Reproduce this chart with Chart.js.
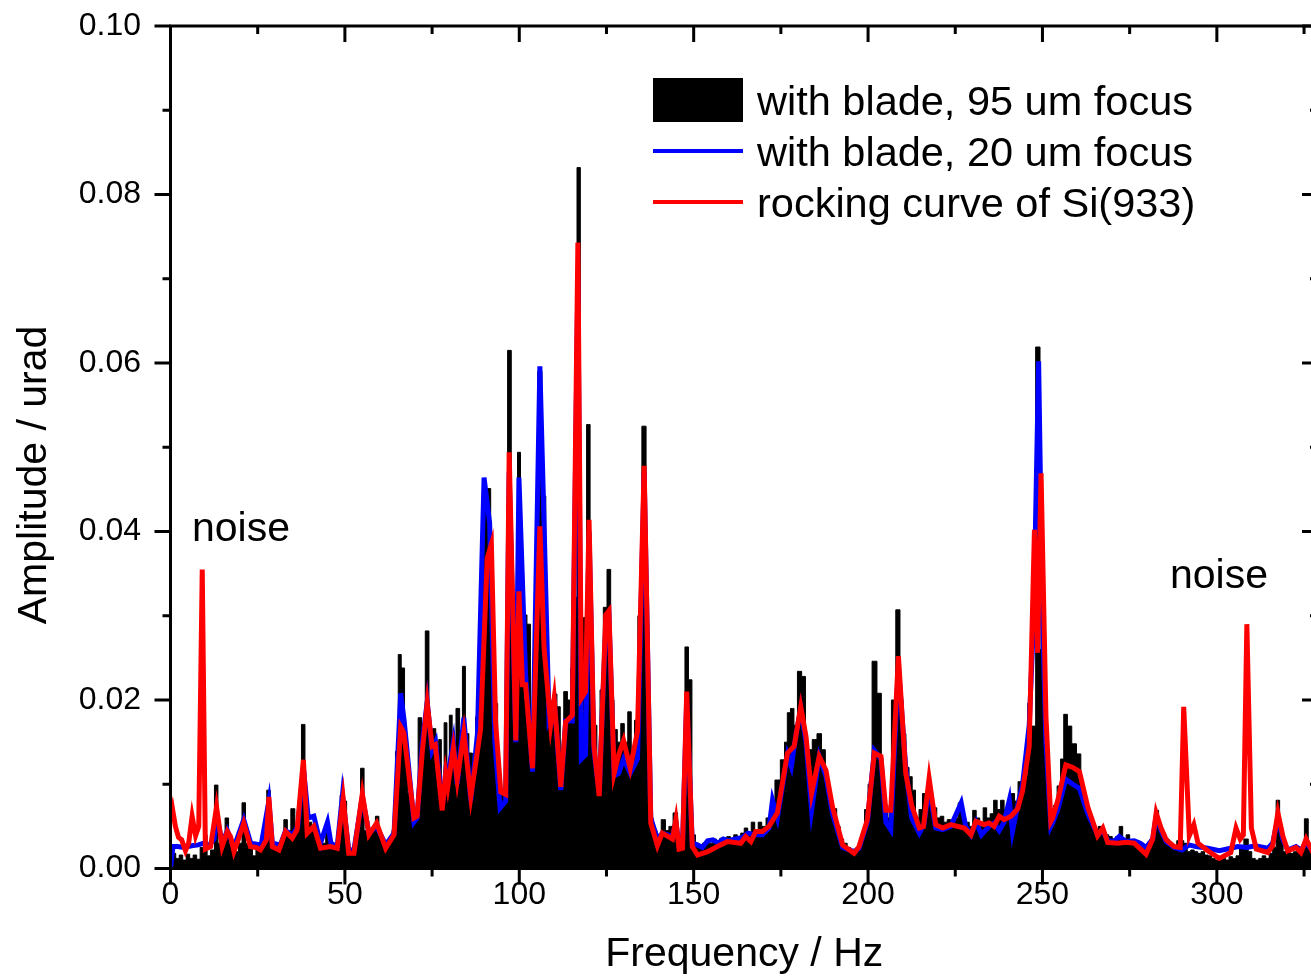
<!DOCTYPE html>
<html>
<head>
<meta charset="utf-8">
<script src="https://cdn.jsdelivr.net/npm/chart.js@4.4.1/dist/chart.umd.min.js"></script>
<style>
  html, body { margin: 0; padding: 0; background: #fff; overflow: hidden; }
  #wrap { width: 1326px; height: 978px; }
</style>
</head>
<body>
<div id="wrap"><canvas id="spectrum" width="1326" height="978"></canvas></div>
<script>
// ============================================================
// DATA
// ============================================================

const xTickValues = [0, 50, 100, 150, 200, 250, 300];
const yTickValues = [0, 0.02, 0.04, 0.06, 0.08, 0.10];

const seriesLabels = [
  "with blade, 95 um focus",
  "with blade, 20 um focus",
  "rocking curve of Si(933)"
];

// black: with blade, 95 um focus
const blackFreq = [
  0, 1, 2, 3, 4, 5, 6, 7, 8, 9, 10, 11, 12, 13.2, 14, 15, 16.3, 17, 18, 19,
  20, 21, 22, 23, 24, 25, 26, 27, 28.2, 29, 30, 31, 32, 33, 34, 35, 36.3, 37, 38.1, 39,
  40, 41, 42, 43, 44, 45, 46, 47, 48, 49.3, 50, 51, 52, 53, 54, 55, 56, 57, 58, 59.5,
  60, 61, 62, 63, 64, 65, 65.6, 66.7, 67.5, 68.5, 69.5, 70.5, 71.5, 72.5, 73.6, 74.6, 75.6, 76.5, 77.3, 78,
  78.9, 79.6, 80.3, 81.2, 82.5, 83.3, 84.1, 85, 86.1, 87, 88, 89, 90, 91.3, 92.3, 93.3, 94.3, 95.3, 96.2, 97.1,
  98.3, 99.1, 99.9, 100.8, 101.7, 102.7, 103.7, 104.7, 105.9, 107.1, 108.1, 109.2, 110.3, 111.3, 112.2, 113.3, 114.3, 115.2, 116.1, 117,
  118, 118.8, 119.8, 120.8, 121.8, 122.7, 123.6, 124.6, 125.7, 126.7, 127.6, 128.6, 129.6, 130.6, 131.6, 132.6, 133.5, 134.5, 135.8, 136.9,
  137.8, 139, 140, 141.4, 142.4, 143.4, 144.8, 146, 147, 148, 149, 150, 151, 152, 153, 154, 155, 156, 157, 158,
  159, 160, 161, 162, 163, 164, 165, 166, 167, 168, 169, 170, 171.5, 172.5, 174.1, 175.6, 176.5, 177.2, 178.3, 179.2,
  180.3, 181.6, 182.5, 183.3, 184.7, 186, 187.3, 188.2, 189, 190.5, 191.5, 192.5, 193.5, 194.5, 195.5, 196.5, 197.5, 198.5, 199.5, 200.5,
  201.8, 203.3, 204.3, 205.2, 206.2, 207.2, 208.7, 209.6, 210.4, 211.3, 212.2, 213.1, 214.1, 215.1, 216.1, 217.2, 218.2, 219.2, 220.2, 221.2,
  222.2, 223.2, 224.2, 225.2, 226.5, 227.5, 228.5, 229.5, 230.5, 231.5, 232.5, 233.5, 234.5, 235.5, 236.5, 237.5, 238.5, 239.5, 240.5, 241.5,
  242.5, 243.5, 244.5, 245.3, 246.3, 247.3, 248.8, 249.8, 250.7, 251.7, 252.7, 253.7, 254.7, 255.7, 256.5, 257.8, 259, 260.5, 261.5, 262.3,
  263.5, 264.5, 265.5, 266.5, 267.5, 268.5, 269.5, 270.5, 271.5, 272.5, 273.5, 274.5, 275.5, 276.5, 277.5, 278.5, 279.5, 280.5, 281.5, 282.8,
  283.8, 284.8, 285.8, 286.8, 288, 289, 290, 291, 292, 293, 294, 295, 296, 297, 298, 299, 300, 301, 302, 303,
  304, 305, 306, 307, 308.5, 309.5, 310.5, 311.5, 312.5, 313.5, 314.5, 315.5, 316.5, 317.5, 318.5, 319.5, 320.5, 321.5, 322.5, 323.5,
  324.5, 325.7, 326.7, 327.7, 328.7
];
const blackAmp = [
  0.0005, 0.0018, 0.0012, 0.0016, 0.0010, 0.0017, 0.0012, 0.0016, 0.0011, 0.0025, 0.0040, 0.0015, 0.0022, 0.0099, 0.0030, 0.0028, 0.0060, 0.0030, 0.0025, 0.0020,
  0.0030, 0.0078, 0.0030, 0.0025, 0.0015, 0.0022, 0.0025, 0.0028, 0.0093, 0.0030, 0.0025, 0.0028, 0.0030, 0.0058, 0.0045, 0.0071, 0.0050, 0.0060, 0.0171, 0.0050,
  0.0055, 0.0050, 0.0042, 0.0035, 0.0030, 0.0045, 0.0030, 0.0028, 0.0030, 0.0087, 0.0080, 0.0025, 0.0022, 0.0025, 0.0050, 0.0119, 0.0045, 0.0040, 0.0045, 0.0062,
  0.0045, 0.0030, 0.0030, 0.0035, 0.0045, 0.0139, 0.0254, 0.0238, 0.0150, 0.0090, 0.0065, 0.0070, 0.0179, 0.0157, 0.0282, 0.0150, 0.0166, 0.0130, 0.0153, 0.0100,
  0.0173, 0.0120, 0.0182, 0.0150, 0.0190, 0.0130, 0.0240, 0.0160, 0.0137, 0.0120, 0.0180, 0.0270, 0.0440, 0.0451, 0.0300, 0.0196, 0.0100, 0.0090, 0.0120, 0.0615,
  0.0254, 0.0160, 0.0494, 0.0350, 0.0301, 0.0290, 0.0170, 0.0268, 0.0590, 0.0442, 0.0240, 0.0190, 0.0207, 0.0192, 0.0110, 0.0210, 0.0200, 0.0238, 0.0322, 0.0832,
  0.0250, 0.0298, 0.0527, 0.0260, 0.0170, 0.0110, 0.0212, 0.0310, 0.0355, 0.0200, 0.0165, 0.0150, 0.0172, 0.0150, 0.0186, 0.0140, 0.0176, 0.0300, 0.0525, 0.0204,
  0.0060, 0.0045, 0.0040, 0.0058, 0.0045, 0.0050, 0.0066, 0.0035, 0.0040, 0.0263, 0.0224, 0.0040, 0.0025, 0.0028, 0.0030, 0.0032, 0.0030, 0.0035, 0.0032, 0.0036,
  0.0033, 0.0038, 0.0035, 0.0040, 0.0038, 0.0042, 0.0048, 0.0040, 0.0055, 0.0045, 0.0055, 0.0050, 0.0060, 0.0070, 0.0105, 0.0129, 0.0150, 0.0185, 0.0190, 0.0170,
  0.0234, 0.0228, 0.0150, 0.0141, 0.0153, 0.0160, 0.0141, 0.0110, 0.0085, 0.0071, 0.0050, 0.0035, 0.0030, 0.0025, 0.0020, 0.0018, 0.0025, 0.0040, 0.0070, 0.0100,
  0.0246, 0.0208, 0.0100, 0.0075, 0.0060, 0.0200, 0.0307, 0.0200, 0.0160, 0.0120, 0.0109, 0.0093, 0.0060, 0.0070, 0.0089, 0.0093, 0.0080, 0.0072, 0.0060, 0.0062,
  0.0055, 0.0058, 0.0055, 0.0060, 0.0078, 0.0060, 0.0055, 0.0050, 0.0069, 0.0060, 0.0050, 0.0072, 0.0060, 0.0065, 0.0081, 0.0070, 0.0081, 0.0070, 0.0075, 0.0089,
  0.0080, 0.0103, 0.0100, 0.0110, 0.0196, 0.0169, 0.0619, 0.0260, 0.0160, 0.0080, 0.0070, 0.0075, 0.0098, 0.0130, 0.0183, 0.0169, 0.0148, 0.0136, 0.0100, 0.0069,
  0.0060, 0.0052, 0.0045, 0.0050, 0.0045, 0.0040, 0.0038, 0.0035, 0.0038, 0.0050, 0.0035, 0.0040, 0.0032, 0.0030, 0.0028, 0.0030, 0.0025, 0.0025, 0.0035, 0.0069,
  0.0050, 0.0042, 0.0035, 0.0028, 0.0025, 0.0033, 0.0033, 0.0030, 0.0020, 0.0022, 0.0020, 0.0018, 0.0020, 0.0016, 0.0015, 0.0012, 0.0010, 0.0010, 0.0012, 0.0010,
  0.0014, 0.0012, 0.0015, 0.0025, 0.0035, 0.0020, 0.0012, 0.0010, 0.0012, 0.0015, 0.0012, 0.0018, 0.0025, 0.0081, 0.0040, 0.0020, 0.0022, 0.0018, 0.0020, 0.0025,
  0.0020, 0.0059, 0.0025, 0.0020, 0.0022
];

// blue: with blade, 20 um focus
const blueFreq = [
  0, 0.7, 2, 4, 6, 8, 9.5, 11, 12.5, 13.2, 14.8, 16.3, 18.2, 21, 23, 26, 28.2, 29.2, 31.5, 33,
  35, 36.5, 38.1, 39.5, 41.1, 43, 45, 46, 47.8, 49.3, 51.1, 52.6, 55, 56.9, 59.1, 61.7, 64.1, 66, 67, 69.8,
  70.7, 72.2, 73.6, 75, 76, 77.9, 78.9, 79.5, 81.1, 82.2, 84.1, 86.1, 88, 89.9, 91.5, 93, 94.5, 96.1, 97.1, 99,
  99.9, 101, 101.8, 103.8, 105.9, 107.1, 108.5, 110, 111.9, 113.3, 115.2, 116.8, 117.8, 119, 120, 121.4, 122.9, 124.8, 125.7, 127.2,
  128.5, 129.9, 131.8, 133.9, 135.8, 137.7, 139.6, 141, 143.9, 144.9, 145.8, 146.8, 148, 149.6, 151.1, 152.5, 154, 155.5, 157, 158.5,
  160, 162, 164, 165.5, 167.5, 169.7, 171.6, 172.6, 174, 176.9, 178, 179, 180.7, 182.2, 183.8, 186, 187.9, 189.8, 192.7, 196,
  197.4, 199.8, 201.8, 203.7, 205.1, 206.5, 208.7, 210.8, 212.5, 214.7, 216, 217.5, 219.4, 221.4, 223.7, 226.7, 228, 229.5, 231, 232.5,
  234.7, 236.1, 237.6, 239, 240.5, 241.4, 242.9, 244.3, 246.2, 247.5, 248.9, 250, 251, 252.4, 253, 254.4, 256.7, 258.7, 260.6, 263,
  265.8, 267.3, 268.7, 270.5, 272, 274, 276.3, 278, 279.7, 281.6, 282.6, 284, 285.5, 287.8, 290, 292, 294, 297.4, 300.7, 304,
  306, 308.6, 311, 314.6, 316, 317.5, 318.9, 320.3, 322.7, 324.1, 325.6, 327.3, 329
];
const blueAmp = [
  0.0000, 0.0026, 0.0026, 0.0025, 0.0027, 0.0028, 0.0030, 0.0027, 0.0035, 0.0065, 0.0030, 0.0045, 0.0025, 0.0058, 0.0030, 0.0028, 0.0080, 0.0030, 0.0028, 0.0045,
  0.0040, 0.0050, 0.0120, 0.0060, 0.0062, 0.0030, 0.0055, 0.0030, 0.0026, 0.0087, 0.0022, 0.0022, 0.0085, 0.0042, 0.0050, 0.0028, 0.0042, 0.0208, 0.0175, 0.0055,
  0.0060, 0.0150, 0.0198, 0.0140, 0.0150, 0.0072, 0.0115, 0.0110, 0.0150, 0.0100, 0.0179, 0.0080, 0.0160, 0.0464, 0.0410, 0.0150, 0.0072, 0.0080, 0.0470, 0.0150,
  0.0464, 0.0330, 0.0230, 0.0115, 0.0596, 0.0410, 0.0180, 0.0200, 0.0093, 0.0175, 0.0175, 0.0700, 0.0130, 0.0135, 0.0400, 0.0140, 0.0090, 0.0290, 0.0300, 0.0110,
  0.0113, 0.0130, 0.0113, 0.0130, 0.0470, 0.0060, 0.0035, 0.0042, 0.0038, 0.0055, 0.0028, 0.0028, 0.0200, 0.0030, 0.0028, 0.0025, 0.0033, 0.0034, 0.0030, 0.0035,
  0.0033, 0.0035, 0.0037, 0.0042, 0.0040, 0.0040, 0.0048, 0.0081, 0.0060, 0.0135, 0.0121, 0.0150, 0.0190, 0.0150, 0.0069, 0.0133, 0.0110, 0.0065, 0.0025, 0.0020,
  0.0024, 0.0055, 0.0140, 0.0130, 0.0055, 0.0046, 0.0240, 0.0120, 0.0060, 0.0042, 0.0052, 0.0095, 0.0048, 0.0046, 0.0050, 0.0078, 0.0050, 0.0040, 0.0055, 0.0040,
  0.0050, 0.0054, 0.0045, 0.0055, 0.0081, 0.0044, 0.0075, 0.0100, 0.0170, 0.0300, 0.0602, 0.0300, 0.0150, 0.0050, 0.0055, 0.0070, 0.0106, 0.0100, 0.0095, 0.0065,
  0.0040, 0.0045, 0.0033, 0.0032, 0.0038, 0.0032, 0.0033, 0.0030, 0.0025, 0.0035, 0.0062, 0.0045, 0.0032, 0.0025, 0.0022, 0.0028, 0.0026, 0.0024, 0.0021, 0.0024,
  0.0026, 0.0025, 0.0027, 0.0024, 0.0030, 0.0060, 0.0035, 0.0022, 0.0026, 0.0022, 0.0030, 0.0022, 0.0024
];

// red: rocking curve of Si(933)
const redFreq = [
  0, 0.6, 1.4, 2.3, 3.2, 4.3, 5.2, 6.2, 7.2, 8.1, 9.1, 10, 11.5, 13.2, 14.8, 16.3, 17.2, 18.2, 19.5, 21,
  22.9, 24.5, 25.8, 27.5, 28.2, 29.2, 31.1, 33, 34.9, 36.3, 38.1, 39.2, 41.1, 43, 45.9, 47.8, 49.5, 51.1, 52.6, 55,
  56.9, 59.1, 61.7, 64.1, 66, 66.9, 69.8, 70.7, 72.2, 73.6, 75, 75.9, 77.9, 78.9, 79.5, 81.1, 82.2, 84.1, 86.1, 88.9,
  90.8, 92, 93.2, 94.7, 96.1, 97.1, 99, 99.9, 100.9, 101.8, 103.8, 105.9, 107.1, 109, 110, 111.9, 113.3, 115.2, 116.8, 117.8,
  119, 120, 121.4, 122.9, 124.8, 125.7, 127.2, 128.5, 129.9, 131.8, 133.9, 135.8, 137.7, 139.6, 141, 143.9, 144.9, 145.8, 146.8, 148,
  149.6, 151.1, 154, 156.8, 159.7, 163.5, 164.9, 166.4, 167.8, 169.7, 171.6, 174, 176.9, 178.8, 180.7, 182.2, 183.8, 186, 187.9, 189.8,
  192.7, 196, 197.4, 199.8, 201.8, 203.7, 205.1, 206.5, 208.7, 210.8, 212.5, 214.7, 215.9, 217.5, 219.4, 221.4, 223.7, 227.6, 229.5, 230.9,
  233.3, 234.7, 236.1, 237.6, 239, 241, 242.9, 244.3, 246.2, 247.7, 248.6, 249.6, 251, 252.4, 252.9, 254.4, 256.7, 258.7, 260.6, 263,
  265.8, 267.3, 268.7, 271.6, 274, 276.3, 279.7, 281.6, 282.6, 284, 285.5, 287.8, 289.5, 290.5, 292.1, 293.4, 294.6, 297.4, 300.7, 304,
  305.5, 306.7, 307.6, 308.6, 309.9, 311.3, 314.6, 316, 317.5, 318.9, 320.3, 322.7, 324.1, 325.6, 327.3, 329
];
const redAmp = [
  0.0058, 0.0070, 0.0050, 0.0037, 0.0034, 0.0021, 0.0030, 0.0062, 0.0039, 0.0050, 0.0355, 0.0023, 0.0026, 0.0073, 0.0026, 0.0044, 0.0038, 0.0020, 0.0035, 0.0054,
  0.0026, 0.0025, 0.0022, 0.0034, 0.0085, 0.0026, 0.0022, 0.0044, 0.0036, 0.0046, 0.0129, 0.0042, 0.0050, 0.0024, 0.0026, 0.0024, 0.0083, 0.0018, 0.0018, 0.0089,
  0.0040, 0.0054, 0.0024, 0.0040, 0.0168, 0.0161, 0.0060, 0.0062, 0.0139, 0.0196, 0.0145, 0.0147, 0.0069, 0.0113, 0.0097, 0.0143, 0.0105, 0.0161, 0.0085, 0.0165,
  0.0368, 0.0385, 0.0174, 0.0091, 0.0088, 0.0494, 0.0152, 0.0329, 0.0218, 0.0218, 0.0119, 0.0406, 0.0262, 0.0171, 0.0202, 0.0097, 0.0174, 0.0182, 0.0743, 0.0202,
  0.0210, 0.0414, 0.0146, 0.0086, 0.0301, 0.0306, 0.0113, 0.0135, 0.0152, 0.0119, 0.0163, 0.0478, 0.0054, 0.0027, 0.0042, 0.0035, 0.0058, 0.0023, 0.0024, 0.0210,
  0.0026, 0.0016, 0.0020, 0.0026, 0.0032, 0.0030, 0.0038, 0.0032, 0.0044, 0.0044, 0.0050, 0.0066, 0.0137, 0.0145, 0.0192, 0.0157, 0.0089, 0.0133, 0.0117, 0.0073,
  0.0028, 0.0018, 0.0026, 0.0058, 0.0137, 0.0133, 0.0069, 0.0069, 0.0252, 0.0113, 0.0075, 0.0048, 0.0050, 0.0107, 0.0052, 0.0048, 0.0052, 0.0048, 0.0040, 0.0056,
  0.0052, 0.0054, 0.0050, 0.0062, 0.0058, 0.0062, 0.0071, 0.0092, 0.0145, 0.0402, 0.0256, 0.0469, 0.0181, 0.0056, 0.0060, 0.0081, 0.0123, 0.0120, 0.0115, 0.0073,
  0.0039, 0.0048, 0.0031, 0.0030, 0.0031, 0.0030, 0.0017, 0.0035, 0.0066, 0.0048, 0.0034, 0.0026, 0.0025, 0.0192, 0.0039, 0.0052, 0.0030, 0.0021, 0.0012, 0.0019,
  0.0048, 0.0035, 0.0040, 0.0290, 0.0048, 0.0023, 0.0019, 0.0027, 0.0066, 0.0039, 0.0021, 0.0025, 0.0019, 0.0035, 0.0021, 0.0025
];

const noiseNotes = [
  { text: "noise", x: 192, y: 541 },
  { text: "noise", x: 1170, y: 588 }
];

// ============================================================
// HELPERS
// ============================================================

const FONT = "'Liberation Sans', Arial, sans-serif";

function toPoints(xs, ys) {
  return xs.map((x, i) => ({ x: x, y: ys[i] }));
}

function range(start, stop, step) {
  const out = [];
  for (let v = start; v <= stop + 1e-9; v += step) out.push(+v.toFixed(4));
  return out;
}

// drop the label overhang so the plot box sits where the reference has it
function noOverhang(axis) {
  axis.paddingTop = 0;
  axis.paddingBottom = 0;
  axis.paddingLeft = 0;
  axis.paddingRight = 0;
}

// axis frame with major / minor ticks on all four sides
const framePlugin = {
  id: "frame",
  afterDatasetsDraw(chart) {
    const { ctx, chartArea: a, scales } = chart;
    const x = scales.x;
    const y = scales.y;

    ctx.save();
    ctx.strokeStyle = "#000";
    ctx.lineWidth = 3;
    ctx.lineCap = "butt";

    ctx.strokeRect(a.left, a.top, a.right - a.left, a.bottom - a.top);

    ctx.beginPath();
    range(0, 325, 25).forEach(v => {
      const px = x.getPixelForValue(v);
      const len = v % 50 === 0 ? 16 : 8;
      ctx.moveTo(px, a.bottom);
      ctx.lineTo(px, a.bottom + len);
      ctx.moveTo(px, a.top);
      ctx.lineTo(px, a.top + len);
    });
    range(0, 0.1, 0.01).forEach((v, i) => {
      const py = y.getPixelForValue(v);
      const len = i % 2 === 0 ? 16 : 8;
      ctx.moveTo(a.left - len, py);
      ctx.lineTo(a.left, py);
      ctx.moveTo(a.right - len, py);
      ctx.lineTo(a.right, py);
    });
    ctx.stroke();
    ctx.restore();
  }
};

// legend inside the plot, axis title on the left, "noise" notes
const textPlugin = {
  id: "texts",
  afterDraw(chart) {
    const { ctx } = chart;
    ctx.save();
    ctx.fillStyle = "#000";
    ctx.textAlign = "left";
    ctx.textBaseline = "alphabetic";

    // legend
    ctx.fillRect(653, 78, 90, 44);
    ctx.lineWidth = 4;
    ctx.strokeStyle = "#0000ff";
    ctx.beginPath(); ctx.moveTo(653, 151); ctx.lineTo(743, 151); ctx.stroke();
    ctx.strokeStyle = "#ff0000";
    ctx.beginPath(); ctx.moveTo(653, 202); ctx.lineTo(743, 202); ctx.stroke();
    ctx.font = "41.5px " + FONT;
    ctx.fillText(seriesLabels[0], 757, 115);
    ctx.fillText(seriesLabels[1], 757, 166);
    ctx.fillText(seriesLabels[2], 757, 217);

    ctx.font = "41px " + FONT;
    noiseNotes.forEach(n => ctx.fillText(n.text, n.x, n.y));

    // y axis title
    ctx.translate(35, 475);
    ctx.rotate(-Math.PI / 2);
    ctx.textAlign = "center";
    ctx.textBaseline = "middle";
    ctx.fillText("Amplitude / urad", 0, 0);
    ctx.restore();
  }
};

// ============================================================
// CHART
// ============================================================

new Chart(document.getElementById("spectrum"), {
  type: "line",
  data: {
    datasets: [
      {
        label: seriesLabels[2],
        data: toPoints(redFreq, redAmp),
        borderColor: "#ff0000",
        borderWidth: 5,
        pointRadius: 0,
        tension: 0,
        order: 1
      },
      {
        label: seriesLabels[1],
        data: toPoints(blueFreq, blueAmp),
        borderColor: "#0000ff",
        borderWidth: 5,
        pointRadius: 0,
        tension: 0,
        order: 2
      },
      {
        label: seriesLabels[0],
        data: toPoints(blackFreq, blackAmp),
        borderColor: "#000",
        backgroundColor: "#000",
        borderWidth: 1,
        pointRadius: 0,
        stepped: "middle",
        fill: "origin",
        order: 3
      }
    ]
  },
  options: {
    responsive: false,
    animation: false,
    layout: { padding: { top: 26, right: 8, left: 0, bottom: 0 } },
    plugins: {
      legend: { display: false },
      tooltip: { enabled: false }
    },
    scales: {
      x: {
        type: "linear",
        min: 0,
        max: 329,
        afterBuildTicks: axis => { axis.ticks = xTickValues.map(v => ({ value: v })); },
        afterFit: axis => { axis.height = 109.5; noOverhang(axis); },
        grid: { display: false },
        border: { display: false },
        ticks: {
          color: "#000",
          font: { family: FONT, size: 32, lineHeight: 1 },
          padding: 3,
          maxRotation: 0,
          autoSkip: false
        },
        title: {
          display: true,
          text: "Frequency / Hz",
          color: "#000",
          font: { family: FONT, size: 41, lineHeight: 1 },
          padding: { top: 0, bottom: 3 }
        }
      },
      y: {
        min: 0,
        max: 0.1,
        afterBuildTicks: axis => { axis.ticks = yTickValues.map(v => ({ value: v })); },
        afterFit: axis => { axis.width = 170.5; noOverhang(axis); },
        grid: { display: false },
        border: { display: false },
        ticks: {
          color: "#000",
          font: { family: FONT, size: 32, lineHeight: 1 },
          padding: 21.5,
          callback: v => v.toFixed(2)
        }
      }
    }
  },
  plugins: [framePlugin, textPlugin]
});
</script>
</body>
</html>
